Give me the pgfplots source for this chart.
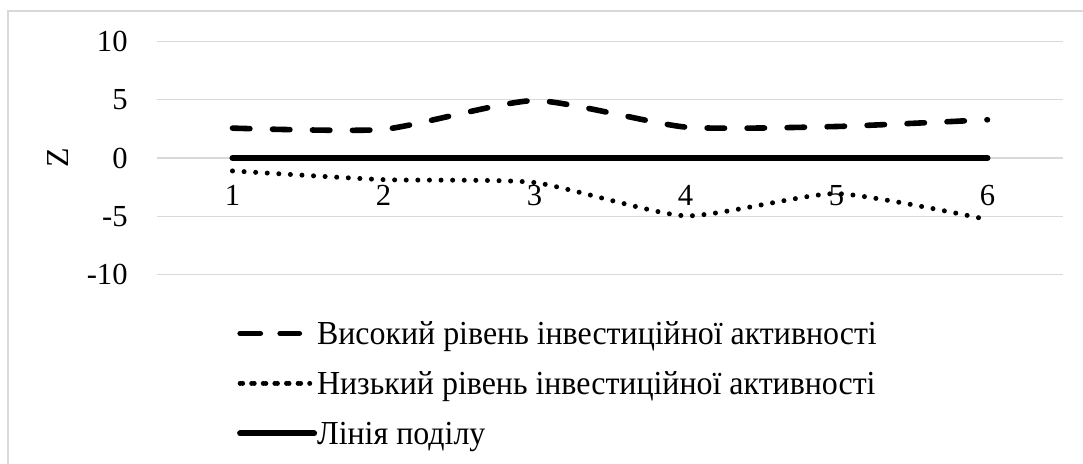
\documentclass[border=0pt]{standalone}
\usepackage{fontspec}
\setmainfont{Liberation Serif}
\newfontfamily\legendfont{Liberation Serif}[FakeStretch=0.95]
\usepackage{pgfplots}
\usepackage{pgfplotstable}
\pgfplotsset{compat=1.18}

\definecolor{gridgray}{HTML}{D9D9D9}

% legend samples; the bounding path sets the gap before the text
\pgfplotsset{
  dash legend/.style={legend image code/.code={\draw[##1] (1.4pt,0pt) -- (29.6pt,0pt); \path (0pt,0pt) -- (37pt,0pt);}},
  dot legend/.style={legend image code/.code={\draw[##1] (1.25pt,0pt) -- (30.3pt,0pt); \path (0pt,0pt) -- (37pt,0pt);}},
  solid legend/.style={legend image code/.code={\draw[##1] (1.5pt,0pt) -- (34.3pt,0pt); \path (0pt,0pt) -- (37pt,0pt);}},
}

% Z-scores by observation
\pgfplotstableread{
x y
1 2.57
2 2.46
3 4.94
4 2.66
5 2.71
6 3.29
}\highdata
\pgfplotstableread{
x y
1 -1.11
2 -1.86
3 -2.11
4 -4.97
5 -3.06
6 -5.29
}\lowdata
\pgfplotstableread{
x y
1 0
2 0
3 0
4 0
5 0
6 0
}\splitdata

\begin{document}
\begin{tikzpicture}
\begin{axis}[
  width=453pt, height=116.3pt, scale only axis,
  xmin=0.5, xmax=6.5, ymin=-10, ymax=10,
  axis line style={draw=none},
  major tick length=0pt,
  xtick={1,2,3,4,5,6}, ytick={-10,-5,0,5,10},
  ymajorgrids,
  grid style={color=gridgray, line width=0.6pt},
  tick label style={font=\fontsize{15.3}{18}\selectfont},
  /pgf/number format/assume math mode=true,
  xticklabel style={anchor=base, inner sep=0pt, yshift=34.65pt},
  yticklabel style={anchor=east, inner sep=0pt, xshift=-14.5pt},
  ylabel={Z},
  ylabel style={at={(axis description cs:-0.1093,0.5)}, anchor=center,
    font=\fontsize{16}{19}\selectfont},
  clip=false,
  legend cell align=left,
  legend style={at={(axis description cs:0.088,-0.1664)}, anchor=north west,
    draw=none, fill=none, inner sep=0pt, row sep=5pt,
    font=\legendfont\fontsize{16.8}{19}\selectfont,
    nodes={inner sep=0pt, text height=15.4pt, text depth=4.6pt}},
]
\addplot[black, line width=2.8pt, line cap=round, smooth, tension=0.35,
  dash pattern=on 8.7pt off 11.3pt, dash legend]
  table[x=x, y=y] {\highdata};
\addlegendentry{Високий рівень інвестиційної активності}
\addplot[black, line width=2.5pt, line cap=round, smooth, tension=0.35,
  dash pattern=on 0pt off 5.8pt, dot legend]
  table[x=x, y=y] {\lowdata};
\addlegendentry{Низький рівень інвестиційної активності}
\addplot[black, line width=3pt, line cap=round, solid legend]
  table[x=x, y=y] {\splitdata};
\addlegendentry{Лінія поділу}
\end{axis}
% chart area border and page extent
\draw[gridgray, line width=0.6pt] (470pt,131.65pt) -- (-74.5pt,131.65pt) -- (-74.5pt,-100pt);
\pgfresetboundingbox
\useasboundingbox (-78.5pt,-94.35pt) rectangle (463pt,137.15pt);
\end{tikzpicture}
\end{document}
